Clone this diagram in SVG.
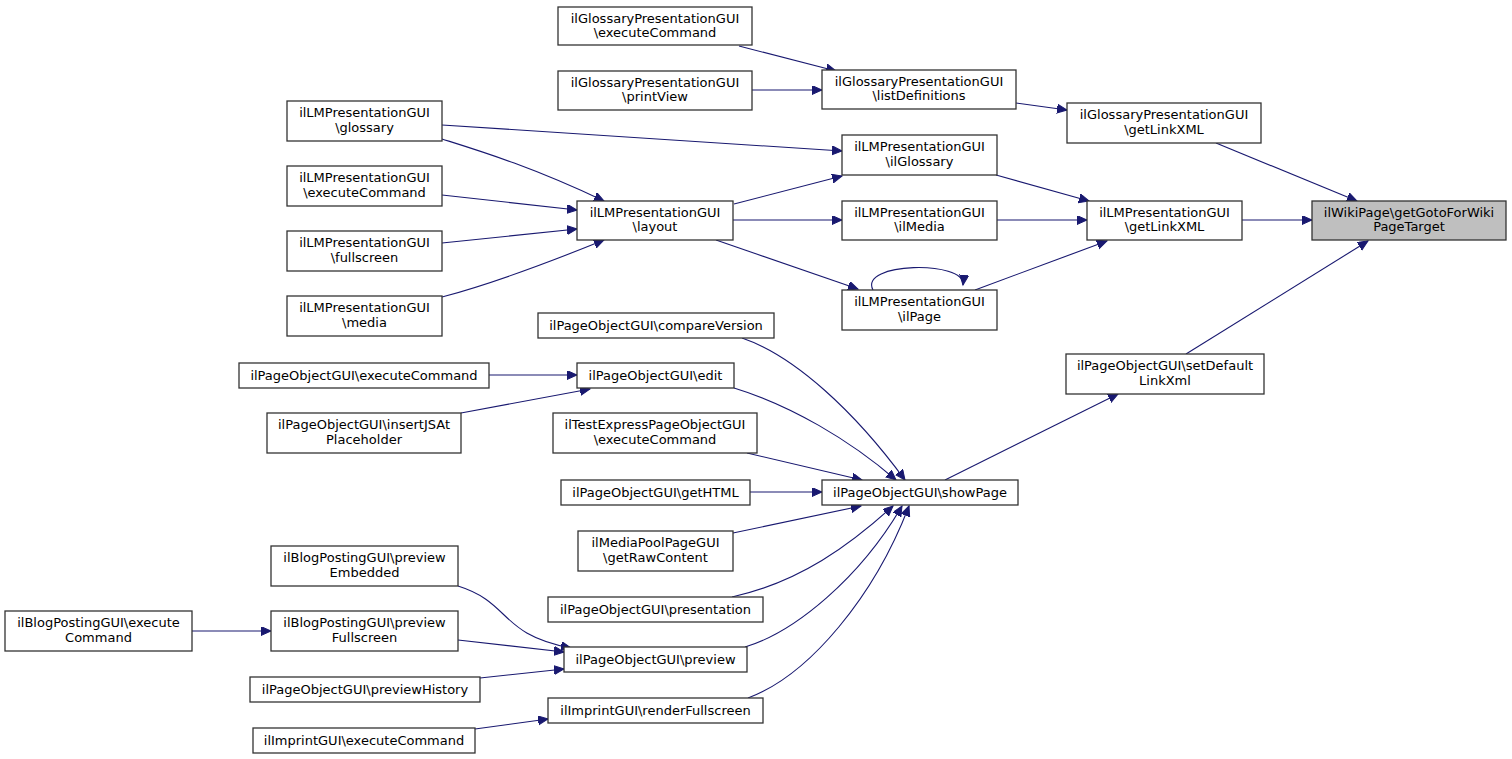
<svg xmlns="http://www.w3.org/2000/svg" width="1512" height="759" viewBox="0 0 1512 759">
<style>
.n rect{fill:#ffffff;stroke:#333333;stroke-width:1.3}
.n.h rect{fill:#bfbfbf}
.n text{font-family:"DejaVu Sans","Liberation Sans",sans-serif;font-size:13px;fill:#000000;text-anchor:middle}
.e path{fill:none;stroke:#191970;stroke-width:1.1;marker-end:url(#ah)}
</style>
<defs>
<marker id="ah" markerUnits="userSpaceOnUse" markerWidth="12" markerHeight="10" refX="10" refY="4.5" orient="auto">
<path d="M0,0 L10,4.5 L0,9 z" fill="#191970" stroke="#191970" stroke-width="1"/>
</marker>
</defs>
<rect width="1512" height="759" fill="#ffffff"/>
<g id="edges" class="e">
<path d="M739,46 L836,71"/>
<path d="M752,90 L822,90"/>
<path d="M1016,103 L1067,110"/>
<path d="M1216,143 L1357,201"/>
<path d="M1242,220 L1312,220"/>
<path d="M1186,354 L1368,241"/>
<path d="M996,175 L1089,201"/>
<path d="M997,220 L1087,220"/>
<path d="M975,290 L1107,241"/>
<path d="M442,125 L842,151"/>
<path d="M442,139 C480,151 530,166 604,201"/>
<path d="M442,195 L577,210"/>
<path d="M442,243 L577,229"/>
<path d="M442,297 C480,287 540,266 604,240"/>
<path d="M734,204 L842,176"/>
<path d="M733,220 L842,220"/>
<path d="M716,240 L858,289"/>
<path d="M873,290 C858,262 966,260 963,285"/>
<path d="M742,338 C795,356 855,412 905,480"/>
<path d="M734,388 C790,405 850,440 896,480"/>
<path d="M489,375 L577,375"/>
<path d="M461,413 L590,389"/>
<path d="M747,453 L862,480"/>
<path d="M750,492 L822,492"/>
<path d="M733,533 L861,506"/>
<path d="M732,597 C800,582 850,545 893,506"/>
<path d="M745,647 C795,632 860,578 902,506"/>
<path d="M748,698 C810,675 875,595 909,506"/>
<path d="M945,480 L1118,394"/>
<path d="M458,586 C512,603 498,634 571,648"/>
<path d="M458,640 L564,652"/>
<path d="M480,678 L564,669"/>
<path d="M192,631 L271,631"/>
<path d="M475,729 L548,719"/>
</g>
<g id="n_gexec" class="n"><rect x="558" y="7" width="194" height="38"/><text x="655" y="23">ilGlossaryPresentationGUI</text><text x="655" y="37">\executeCommand</text></g>
<g id="n_gprint" class="n"><rect x="558" y="71" width="194" height="39"/><text x="655" y="87">ilGlossaryPresentationGUI</text><text x="655" y="101">\printView</text></g>
<g id="n_glist" class="n"><rect x="822" y="70" width="194" height="39"/><text x="919" y="86">ilGlossaryPresentationGUI</text><text x="919" y="100">\listDefinitions</text></g>
<g id="n_gglx" class="n"><rect x="1067" y="103" width="194" height="40"/><text x="1164" y="119">ilGlossaryPresentationGUI</text><text x="1164" y="133.5">\getLinkXML</text></g>
<g id="n_wiki" class="n h"><rect x="1312" y="201" width="194" height="39"/><text x="1409" y="217">ilWikiPage\getGotoForWiki</text><text x="1409" y="231">PageTarget</text></g>
<g id="n_lmglx" class="n"><rect x="1087" y="201" width="155" height="39"/><text x="1164.5" y="217">ilLMPresentationGUI</text><text x="1164.5" y="231">\getLinkXML</text></g>
<g id="n_lmgloss" class="n"><rect x="287" y="101" width="155" height="40"/><text x="364.5" y="117">ilLMPresentationGUI</text><text x="364.5" y="131.5">\glossary</text></g>
<g id="n_lmexec" class="n"><rect x="287" y="166" width="155" height="40"/><text x="364.5" y="182">ilLMPresentationGUI</text><text x="364.5" y="196.5">\executeCommand</text></g>
<g id="n_lmfull" class="n"><rect x="287" y="231" width="155" height="40"/><text x="364.5" y="247">ilLMPresentationGUI</text><text x="364.5" y="261.5">\fullscreen</text></g>
<g id="n_lmmedia" class="n"><rect x="287" y="296" width="155" height="40"/><text x="364.5" y="312">ilLMPresentationGUI</text><text x="364.5" y="326.5">\media</text></g>
<g id="n_layout" class="n"><rect x="577" y="201" width="156" height="39"/><text x="655" y="217">ilLMPresentationGUI</text><text x="655" y="231">\layout</text></g>
<g id="n_ilgloss" class="n"><rect x="842" y="135" width="155" height="40"/><text x="919.5" y="151">ilLMPresentationGUI</text><text x="919.5" y="165.5">\ilGlossary</text></g>
<g id="n_ilmedia" class="n"><rect x="842" y="201" width="155" height="39"/><text x="919.5" y="217">ilLMPresentationGUI</text><text x="919.5" y="231">\ilMedia</text></g>
<g id="n_ilpage" class="n"><rect x="842" y="290" width="155" height="40"/><text x="919.5" y="306">ilLMPresentationGUI</text><text x="919.5" y="320.5">\ilPage</text></g>
<g id="n_cmpv" class="n"><rect x="538" y="313" width="236" height="25"/><text x="656" y="329.5">ilPageObjectGUI\compareVersion</text></g>
<g id="n_pexec" class="n"><rect x="239" y="363" width="250" height="25"/><text x="364" y="379.5">ilPageObjectGUI\executeCommand</text></g>
<g id="n_edit" class="n"><rect x="577" y="363" width="157" height="25"/><text x="655.5" y="379.5">ilPageObjectGUI\edit</text></g>
<g id="n_insjs" class="n"><rect x="267" y="413" width="194" height="40"/><text x="364" y="429">ilPageObjectGUI\insertJSAt</text><text x="364" y="443.5">Placeholder</text></g>
<g id="n_testx" class="n"><rect x="553" y="413" width="204" height="40"/><text x="655" y="429">ilTestExpressPageObjectGUI</text><text x="655" y="443.5">\executeCommand</text></g>
<g id="n_gethtml" class="n"><rect x="561" y="480" width="189" height="25"/><text x="655.5" y="496.5">ilPageObjectGUI\getHTML</text></g>
<g id="n_show" class="n"><rect x="822" y="480" width="196" height="25"/><text x="920" y="496.5">ilPageObjectGUI\showPage</text></g>
<g id="n_setdef" class="n"><rect x="1066" y="354" width="198" height="40"/><text x="1165" y="370">ilPageObjectGUI\setDefault</text><text x="1165" y="384.5">LinkXml</text></g>
<g id="n_mpool" class="n"><rect x="578" y="531" width="155" height="40"/><text x="655.5" y="547">ilMediaPoolPageGUI</text><text x="655.5" y="561.5">\getRawContent</text></g>
<g id="n_pres" class="n"><rect x="548" y="597" width="215" height="25"/><text x="655.5" y="613.5">ilPageObjectGUI\presentation</text></g>
<g id="n_bemb" class="n"><rect x="271" y="546" width="187" height="40"/><text x="364.5" y="562">ilBlogPostingGUI\preview</text><text x="364.5" y="576.5">Embedded</text></g>
<g id="n_bexec" class="n"><rect x="5" y="611" width="187" height="40"/><text x="98.5" y="627">ilBlogPostingGUI\execute</text><text x="98.5" y="641.5">Command</text></g>
<g id="n_bfull" class="n"><rect x="271" y="611" width="187" height="40"/><text x="364.5" y="627">ilBlogPostingGUI\preview</text><text x="364.5" y="641.5">Fullscreen</text></g>
<g id="n_prev" class="n"><rect x="564" y="647" width="183" height="25"/><text x="655.5" y="663.5">ilPageObjectGUI\preview</text></g>
<g id="n_phist" class="n"><rect x="250" y="677" width="230" height="25"/><text x="365" y="693.5">ilPageObjectGUI\previewHistory</text></g>
<g id="n_rfull" class="n"><rect x="548" y="698" width="215" height="25"/><text x="655.5" y="714.5">ilImprintGUI\renderFullscreen</text></g>
<g id="n_iexec" class="n"><rect x="253" y="728" width="222" height="25"/><text x="364" y="744.5">ilImprintGUI\executeCommand</text></g>
</svg>
